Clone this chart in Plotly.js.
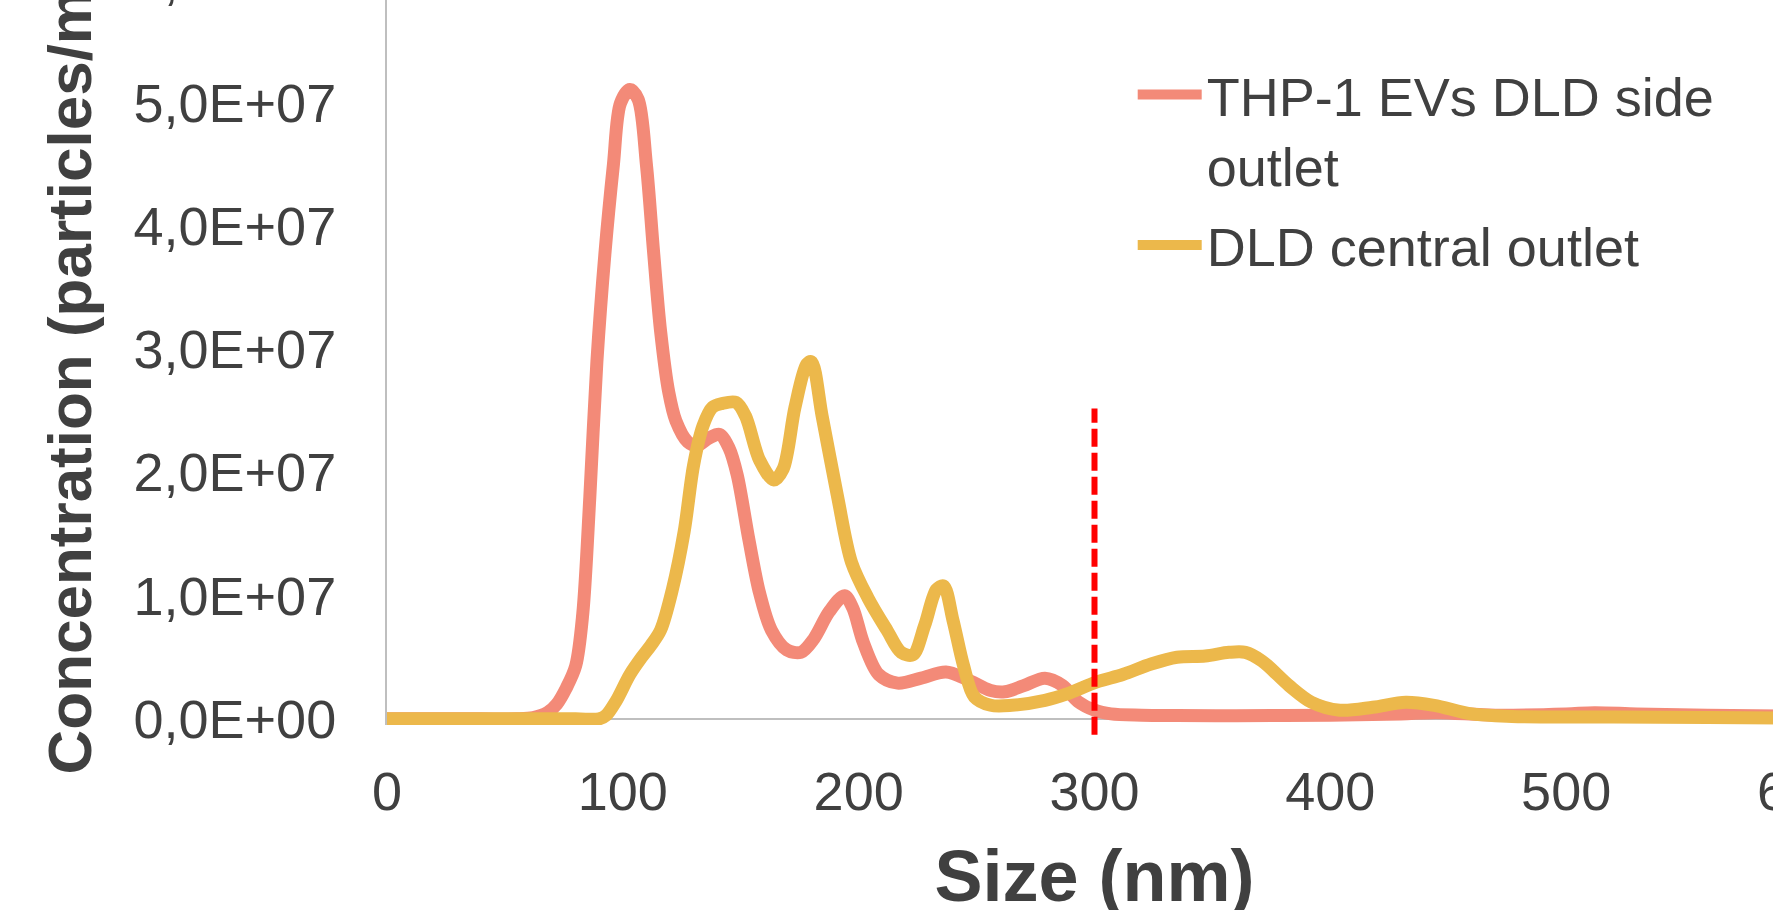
<!DOCTYPE html>
<html>
<head>
<meta charset="utf-8">
<script src="https://cdn.plot.ly/plotly-3.0.1.min.js"></script>
<style>
  html, body { margin: 0; padding: 0; background: #ffffff; overflow: hidden; width: 1773px; height: 910px; }
  #chart { position: absolute; left: 0; top: -100px; }
</style>
</head>
<body>
<div id="chart"></div>
<script>
// ---- data ----
const sideSizes = [0, 20, 40, 55, 62, 68, 72, 76, 80, 83, 86, 89, 92.5, 96, 99, 103, 106.5, 110, 113, 116, 119.5, 122.5, 127.5, 131.5, 136.5, 141, 145, 148.5, 153.5, 158, 163, 169.5, 175.5, 181, 187.5, 194, 197.5, 202, 208.5, 216.5, 226.5, 237, 246, 256, 262, 270, 279, 286.5, 293, 300, 307, 320, 335, 360, 400, 430, 445, 470, 500, 512, 530, 560, 600];
const sideConc = [0, 0, 0, 0, 0.01, 0.05, 0.12, 0.25, 0.43, 0.85, 1.8, 2.9, 3.8, 4.5, 5.0, 5.11, 5.03, 4.5, 3.8, 3.15, 2.65, 2.42, 2.25, 2.22, 2.28, 2.31, 2.2, 1.98, 1.45, 1.02, 0.72, 0.56, 0.54, 0.65, 0.87, 1.0, 0.9, 0.62, 0.36, 0.29, 0.33, 0.38, 0.32, 0.23, 0.22, 0.27, 0.33, 0.27, 0.14, 0.07, 0.04, 0.03, 0.027, 0.025, 0.03, 0.04, 0.05, 0.03, 0.04, 0.05, 0.04, 0.03, 0.02].map(v => v * 1e7);

const centralSizes = [0, 40, 80, 90, 93, 97, 103, 108, 112, 116, 121, 126, 130, 134, 138, 142, 148, 152, 158, 164, 168, 173, 178, 180, 184.5, 191, 197, 204, 212, 218, 223, 228, 233, 236, 240, 244.5, 249, 256, 265, 279, 288, 301, 312, 324, 335, 347, 357, 364, 371, 382.5, 392, 404, 418, 432, 444, 460, 477, 520, 560, 600];
const centralConc = [0, 0, 0, 0, 0.03, 0.14, 0.36, 0.5, 0.6, 0.72, 1.05, 1.52, 2.06, 2.38, 2.53, 2.56, 2.57, 2.46, 2.1, 1.94, 2.03, 2.53, 2.88, 2.9, 2.46, 1.81, 1.27, 0.98, 0.72, 0.54, 0.52, 0.76, 1.05, 1.08, 0.8, 0.43, 0.18, 0.11, 0.11, 0.15, 0.2, 0.3, 0.36, 0.445, 0.5, 0.51, 0.54, 0.54, 0.47, 0.27, 0.135, 0.07, 0.094, 0.135, 0.11, 0.04, 0.02, 0.015, 0.01, 0.005].map(v => v * 1e7);

const seriesNames = ['THP-1 EVs DLD side<br>outlet', 'DLD central outlet'];
const xTickVals = [0, 100, 200, 300, 400, 500, 600];
const yTickVals = [0, 1e7, 2e7, 3e7, 4e7, 5e7, 6e7];
const yTickText = ['0,0E+00', '1,0E+07', '2,0E+07', '3,0E+07', '4,0E+07', '5,0E+07', '6,0E+07'];
const cutoffSize = 300;
const cutoffTop = 2.52e7;
const cutoffBottom = -1.3e6;
const xRange = [0, 600];
const yRange = [-5e5, 6e7];

const toPaper = v => (v - yRange[0]) / (yRange[1] - yRange[0]);

const textColor = '#404040';
const tickFont = { family: 'Liberation Sans, Arial, sans-serif', size: 54, color: textColor };

const traces = [
  { x: sideSizes, y: sideConc, name: seriesNames[0], legendgroup: 'side', type: 'scatter', mode: 'lines',
    line: { color: '#F38A78', width: 13, shape: 'spline', smoothing: 0.9 } },
  { x: centralSizes, y: centralConc, name: seriesNames[1], legendgroup: 'central', type: 'scatter', mode: 'lines',
    line: { color: '#ECB84B', width: 13, shape: 'spline', smoothing: 0.9 } }
];

const layout = {
  width: 1900, height: 1040,
  margin: { l: 387, r: 98, t: 80, b: 214.8 },
  paper_bgcolor: '#ffffff', plot_bgcolor: '#ffffff',
  showlegend: true,
  legend: {
    x: 0.527, xanchor: 'left', y: 0.902, yanchor: 'top', valign: 'top',
    itemwidth: 64, tracegroupgap: 7,
    font: { family: 'Liberation Sans, Arial, sans-serif', size: 54, color: textColor },
    bgcolor: 'rgba(0,0,0,0)'
  },
  xaxis: {
    range: xRange, tickmode: 'array', tickvals: xTickVals,
    showline: false, showgrid: false, zeroline: false, ticks: '',
    tickfont: tickFont, ticklabelstandoff: 30, layer: 'below traces',
    title: { text: 'Size (nm)', standoff: 30,
      font: { family: 'Liberation Sans, Arial, sans-serif', size: 72, color: textColor, weight: 'bold' } }
  },
  yaxis: {
    range: yRange, tickmode: 'array', tickvals: yTickVals, ticktext: yTickText,
    showline: true, linecolor: '#BFBFBF', linewidth: 2, mirror: false,
    showgrid: false, zeroline: true, zerolinecolor: '#BFBFBF', zerolinewidth: 2,
    ticks: '', tickfont: tickFont, ticklabelstandoff: 38, layer: 'below traces',
    title: { text: 'Concentration (particles/mL)', standoff: 22,
      font: { family: 'Liberation Sans, Arial, sans-serif', size: 62, color: textColor, weight: 'bold' } }
  },
  shapes: [{
    type: 'line', xref: 'x', yref: 'paper',
    x0: cutoffSize, x1: cutoffSize, y0: toPaper(cutoffBottom), y1: toPaper(cutoffTop),
    line: { color: '#FF0000', width: 6, dash: '18px,6px' }
  }]
};

Plotly.newPlot('chart', traces, layout, { displayModeBar: false, staticPlot: true });
</script>
</body>
</html>
